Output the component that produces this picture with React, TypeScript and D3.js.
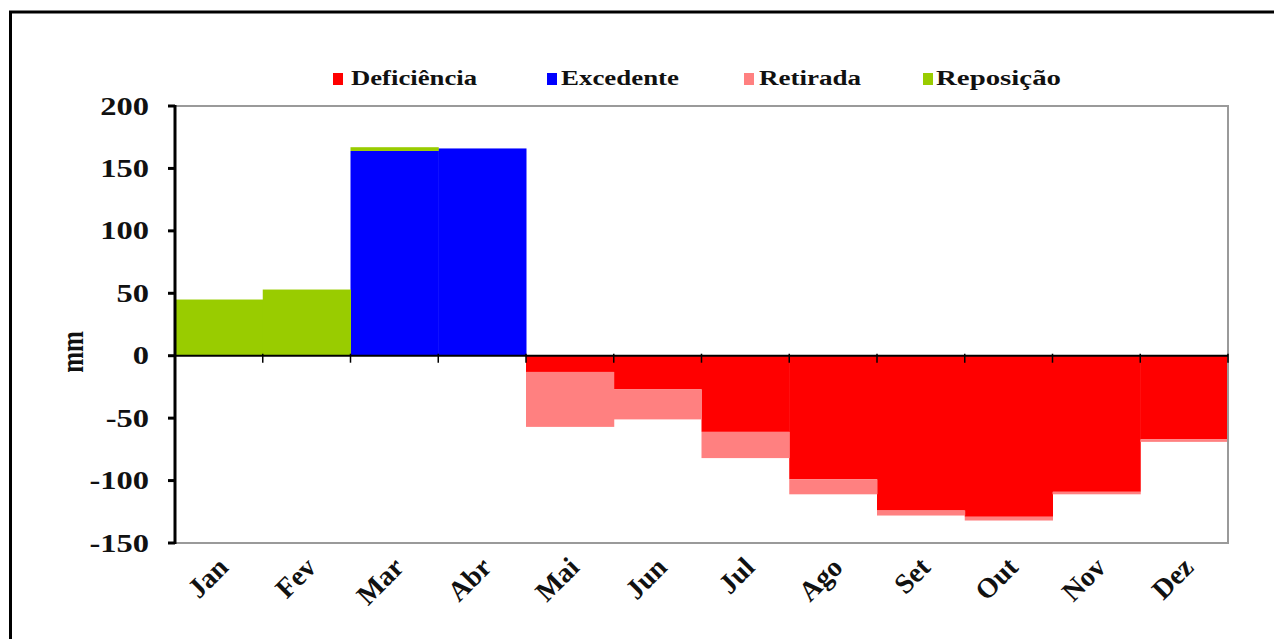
import React from "react";
import * as d3 from "d3";

const months = ["Jan", "Fev", "Mar", "Abr", "Mai", "Jun", "Jul", "Ago", "Set", "Out", "Nov", "Dez"];
const deficiencia = [0, 0, 0, 0, -13, -27, -61, -99, -124, -129, -109, -67];
const excedente = [0, 0, 164, 166, 0, 0, 0, 0, 0, 0, 0, 0];
const retirada = [0, 0, 0, 0, -44, -24, -21, -12, -4, -3, -2, -2];
const reposicao = [45, 53, 3, 0, 0, 0, 0, 0, 0, 0, 0, 0];
const yTicks = [200, 150, 100, 50, 0, -50, -100, -150];

const seriesNames = ["Deficiência", "Excedente", "Retirada", "Reposição"];
const seriesKeys = ["deficiencia", "excedente", "retirada", "reposicao"];
const seriesColors = ["#FF0000", "#0000FF", "#FF8080", "#99CC00"];

const W = 1274;
const H = 639;
const plot = { left: 175, right: 1228, top: 106, bottom: 543 };
const SX = 1.3; // horizontal stretch of the original image's text

const legendLayout = [
  { sq: 333, tx: 351, len: 126 },
  { sq: 547, tx: 561, len: 118 },
  { sq: 744, tx: 759, len: 102 },
  { sq: 923, tx: 936, len: 125 },
];

export default function App() {
  const rows = months.map((m, i) => ({
    month: m,
    deficiencia: deficiencia[i],
    excedente: excedente[i],
    retirada: retirada[i],
    reposicao: reposicao[i],
  }));
  const stack = d3.stack<any>().keys(seriesKeys).offset(d3.stackOffsetDiverging);
  const stacked = stack(rows);

  const x = d3.scaleBand<string>().domain(months).range([plot.left, plot.right]).padding(0);
  const y = d3.scaleLinear().domain([-150, 200]).range([plot.bottom, plot.top]);
  const font = "'Liberation Serif', 'Times New Roman', serif";

  return (
    <div style={{ position: "absolute", left: 0, top: 0 }}>
      <svg width={W} height={H} style={{ display: "block", background: "#fff" }}>
        <rect x={0} y={0} width={W} height={H} fill="#fff" />
        {/* outer frame */}
        <path d={`M10.5,${H} L10.5,12 L${W},12`} fill="none" stroke="#000" strokeWidth={3} />

        {/* bars */}
        {stacked.map((s, si) => (
          <g key={s.key} fill={seriesColors[si]}>
            {s.map((d, i) => {
              const y0 = y(d[0]);
              const y1 = y(d[1]);
              const h = Math.abs(y0 - y1);
              if (h < 0.01) return null;
              return (
                <rect
                  key={i}
                  x={x(months[i])!}
                  y={Math.min(y0, y1)}
                  width={x.bandwidth() + 0.5}
                  height={h}
                />
              );
            })}
          </g>
        ))}

        {/* plot border (gray) */}
        <path
          d={`M${plot.left},${plot.top} L${plot.right},${plot.top} L${plot.right},${plot.bottom} L${plot.left},${plot.bottom}`}
          fill="none"
          stroke="#9a9a9a"
          strokeWidth={2}
        />

        {/* zero axis */}
        <line x1={plot.left} x2={plot.right} y1={y(0)} y2={y(0)} stroke="#000" strokeWidth={2} />
        {months.map((m, i) => (
          <line
            key={m}
            x1={x(m)! + x.bandwidth()}
            x2={x(m)! + x.bandwidth()}
            y1={y(0) - 2}
            y2={y(0) + 7}
            stroke="#000"
            strokeWidth={1.5}
          />
        ))}

        {/* left axis */}
        <line x1={plot.left} x2={plot.left} y1={plot.top - 1} y2={plot.bottom + 1} stroke="#000" strokeWidth={3} />
        {yTicks.map((t) => (
          <g key={t}>
            <line x1={plot.left - 7} x2={plot.left} y1={y(t)} y2={y(t)} stroke="#000" strokeWidth={3} />
            <text
              transform={`translate(149,${y(t)}) scale(${SX},1)`}
              textAnchor="end"
              dominantBaseline="central"
              fontFamily={font}
              fontWeight="bold"
              fontSize={25}
              fill="#111"
            >
              {t}
            </text>
          </g>
        ))}

        {/* y title */}
        <text
          transform={`translate(83,352) scale(${SX},1) rotate(-90)`}
          textAnchor="middle"
          fontFamily={font}
          fontWeight="bold"
          fontSize={25}
          fill="#111"
        >
          mm
        </text>

        {/* x labels */}
        {months.map((m) => (
          <text
            key={m}
            transform={`translate(${x(m)! + x.bandwidth() / 2 + 11},569) rotate(-45)`}
            textAnchor="end"
            fontFamily={font}
            fontWeight="bold"
            fontSize={28}
            fill="#111"
          >
            {m}
          </text>
        ))}

        {/* legend */}
        {seriesNames.map((n, i) => (
          <g key={n}>
            <rect x={legendLayout[i].sq} y={73} width={10} height={12} fill={seriesColors[i]} />
            <text
              x={legendLayout[i].tx}
              y={85}
              textLength={legendLayout[i].len}
              lengthAdjust="spacingAndGlyphs"
              fontFamily={font}
              fontWeight="bold"
              fontSize={20}
              fill="#111"
            >
              {n}
            </text>
          </g>
        ))}
      </svg>
    </div>
  );
}
